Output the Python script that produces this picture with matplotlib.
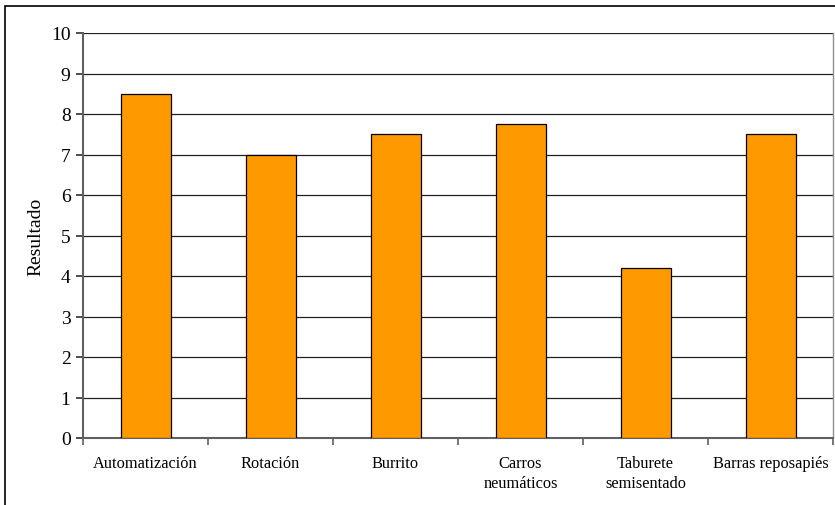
import matplotlib
matplotlib.use("Agg")
import numpy as np
import matplotlib.pyplot as plt
from matplotlib.patches import Rectangle

# ── Data ────────────────────────────────────────────────────────────────
Categories = ["Automatización", "Rotación", "Burrito", "Carros\nneumáticos",
              "Taburete\nsemisentado", "Barras reposapiés"]
Resultado  = [8.5, 7.0, 7.5, 7.75, 4.2, 7.5]
Y_ticks    = list(range(0, 11))

plt.rcParams["font.family"] = ["Liberation Serif", "DejaVu Serif"]

W, H = 835, 506
fig = plt.figure(figsize=(W / 100, H / 100), dpi=100)
ax = fig.add_axes([83 / W, (H - 439) / H, 750 / W, (439 - 34) / H])

x = np.arange(len(Categories))
ax.bar(x, Resultado, width=0.4, color="#FF9900", edgecolor="black", lw=0.9, zorder=3)

ax.set_xlim(-0.5, len(Categories) - 0.5)
ax.set_ylim(0, 10)
ax.set_yticks(Y_ticks)
ax.yaxis.grid(True, color="#202020", lw=0.9, zorder=0)
ax.set_axisbelow(True)

# category labels between boundary ticks
ax.set_xticks(x)
ax.set_xticklabels(Categories, fontsize=11.8, linespacing=1.35)
ax.tick_params(axis="x", which="major", length=0, pad=12)
ax.set_xticks(np.arange(len(Categories) + 1) - 0.5, minor=True)
ax.tick_params(axis="x", which="minor", length=5, width=1.2, color="#606060", direction="out")
ax.tick_params(axis="y", length=5, width=1.2, color="#303030", labelsize=14, pad=4)

for s in ["left", "bottom"]:
    ax.spines[s].set_color("#606060")
    ax.spines[s].set_linewidth(1.5)
ax.spines["right"].set_color("#909090")
ax.spines["right"].set_linewidth(1.0)
ax.spines["top"].set_visible(False)

ax.set_ylabel("Resultado", fontsize=14, labelpad=5)

# outer chart frame
fig.patches.append(Rectangle((4.5 / W, -0.05), 1.0, (H - 7) / H + 0.05,
                             transform=fig.transFigure, fill=False,
                             edgecolor="black", lw=1.2))

fig.savefig("out.png", dpi=100)
